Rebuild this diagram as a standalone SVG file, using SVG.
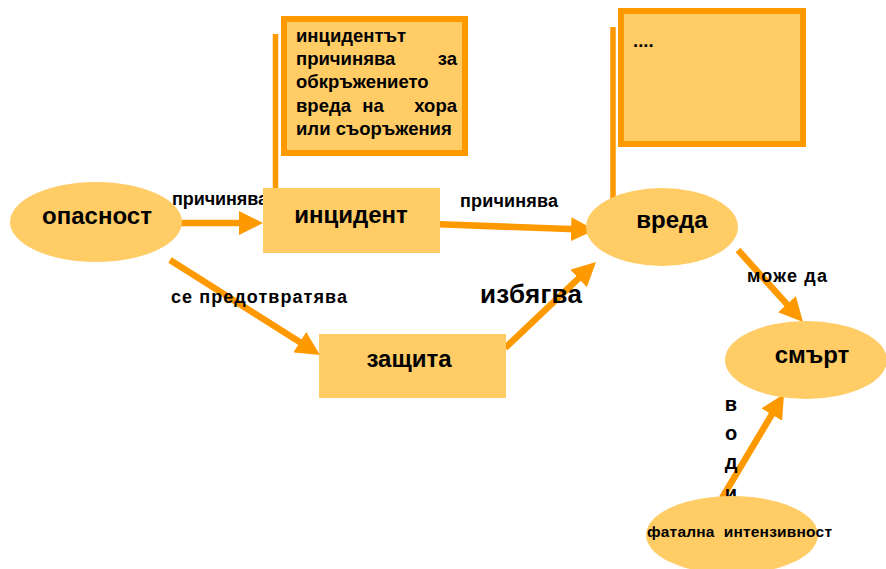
<svg xmlns="http://www.w3.org/2000/svg" width="886" height="569" viewBox="0 0 886 569">
<defs>
<style>
.n{fill:#FFCC66;stroke:none}
.c{fill:#FFCC66;stroke:#FF9900;stroke-width:6}
.pin{stroke:#FF9900;stroke-width:5.5}
.a{stroke:#FF9900;stroke-width:6.5;fill:none;marker-end:url(#ah)}
text{font-family:"Liberation Sans",Arial,sans-serif;font-weight:bold;fill:#000}
.big{font-size:24px}
.lbl{font-size:18px}
.cl{font-size:18.5px}
.v{font-size:20px}
</style>
<marker id="ah" markerUnits="userSpaceOnUse" viewBox="0 0 24 24" markerWidth="24" markerHeight="24" refX="12" refY="12" orient="auto">
<path d="M0,0 L24,12 L0,24 z" fill="#FF9900"/>
</marker>
</defs>
<rect width="886" height="569" fill="#FFFFFF"/>

<g id="callout1">
<rect class="c" x="284" y="19" width="181" height="134"/>
<line class="pin" x1="275.5" y1="34" x2="275.5" y2="212"/>
<text class="cl" x="296" y="42">инцидентът</text>
<text class="cl" x="296" y="65">причинява</text>
<text class="cl" x="457" y="65" text-anchor="end">за</text>
<text class="cl" x="296" y="88">обкръжението</text>
<text class="cl" x="296" y="112">вреда</text>
<text class="cl" x="373" y="112" text-anchor="middle">на</text>
<text class="cl" x="457" y="112" text-anchor="end">хора</text>
<text class="cl" x="296" y="135">или съоръжения</text>
</g>

<g id="callout2">
<rect class="c" x="621" y="11" width="182" height="133"/>
<line class="pin" x1="613" y1="27" x2="613" y2="215"/>
<text class="cl" x="633" y="47">....</text>
</g>

<g id="connectors">
<line class="a" x1="178" y1="223" x2="251" y2="223"/>
<line class="a" x1="433" y1="224" x2="583" y2="229.6"/>
<line class="a" x1="170" y1="260" x2="309.9" y2="348.6"/>
<line class="a" x1="505" y1="348" x2="587.3" y2="270.2"/>
<line class="a" x1="738" y1="250" x2="795" y2="313.1"/>
<line class="a" x1="722" y1="498" x2="777.9" y2="404.3"/>
<text class="lbl" x="172" y="205" textLength="96">причинява</text>
<text class="lbl" x="460" y="207" textLength="98">причинява</text>
<text class="lbl" x="171" y="303" textLength="176">се предотвратява</text>
<text x="480" y="303" style="font-size:26px" textLength="102">избягва</text>
<text class="lbl" x="747" y="282" textLength="80">може да</text>
<text class="v" x="731" y="411" text-anchor="middle">в</text>
<text class="v" x="731" y="440" text-anchor="middle">о</text>
<text class="v" x="731" y="469" text-anchor="middle">д</text>
<text class="v" x="731" y="500" text-anchor="middle">и</text>
</g>

<g id="opasnost">
<ellipse class="n" cx="96" cy="222" rx="86" ry="40"/>
<text class="big" x="97" y="224" text-anchor="middle">опасност</text>
</g>
<g id="incident">
<rect class="n" x="263" y="188" width="177" height="65"/>
<text class="big" x="351" y="223" text-anchor="middle">инцидент</text>
</g>
<g id="vreda">
<ellipse class="n" cx="662" cy="227" rx="76" ry="39"/>
<text class="big" x="672" y="228" text-anchor="middle">вреда</text>
</g>
<g id="zashtita">
<rect class="n" x="319" y="334" width="187" height="64"/>
<text class="big" x="409" y="367" text-anchor="middle">защита</text>
</g>
<g id="smart">
<ellipse class="n" cx="806" cy="360" rx="81" ry="39"/>
<text class="big" x="812" y="363" text-anchor="middle">смърт</text>
</g>
<g id="fatalna">
<ellipse class="n" cx="732" cy="535" rx="86" ry="39"/>
<text x="647" y="537" style="font-size:15.5px" xml:space="preserve" textLength="185">фатална  интензивност</text>
</g>
</svg>
